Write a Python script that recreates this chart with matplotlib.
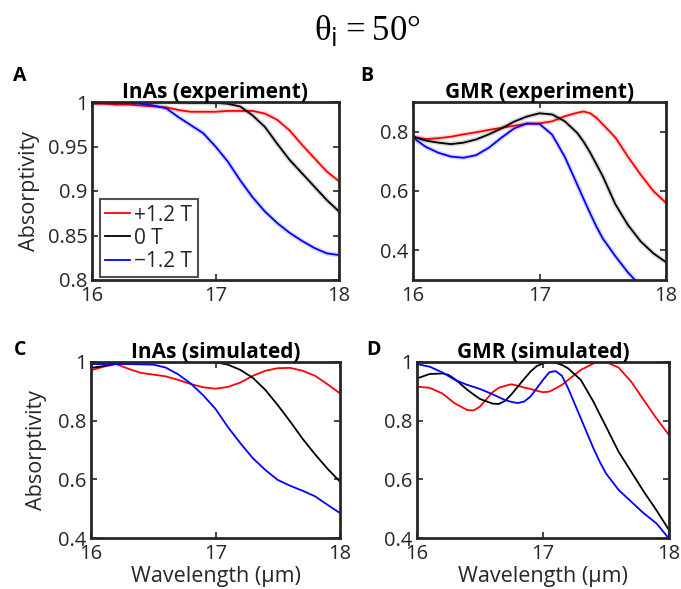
import matplotlib
matplotlib.use('Agg')
import matplotlib.pyplot as plt

# wavelength grids (um)
wl = [16.0, 16.1, 16.2, 16.3, 16.4, 16.5, 16.6, 16.7, 16.8, 16.9,
      17.0, 17.1, 17.2, 17.3, 17.4, 17.5, 17.6, 17.7, 17.8, 17.9, 18.0]
wl_b = [16.0, 16.1, 16.2, 16.3, 16.4, 16.5, 16.6, 16.7, 16.8, 16.9,
        17.0, 17.1, 17.2, 17.3, 17.35, 17.4, 17.45, 17.5, 17.6, 17.7, 17.8, 17.9, 18.0]
wl_d = [16.0, 16.1, 16.2, 16.25, 16.3, 16.4, 16.45, 16.5, 16.6, 16.65, 16.7, 16.75,
        16.8, 16.85, 16.9, 16.95, 17.0, 17.05, 17.1, 17.15, 17.2, 17.3, 17.4, 17.45,
        17.5, 17.6, 17.7, 17.8, 17.9, 18.0]

# A: InAs experiment
a_pos = [0.998, 0.998, 0.997, 0.997, 0.996, 0.995, 0.994, 0.991, 0.989, 0.989,
         0.989, 0.990, 0.990, 0.990, 0.987, 0.980, 0.968, 0.952, 0.937, 0.922, 0.911]
a_zero = [1.000, 1.000, 1.000, 1.000, 1.000, 1.000, 1.000, 1.000, 0.999, 0.999,
          0.999, 0.998, 0.995, 0.985, 0.972, 0.953, 0.935, 0.920, 0.905, 0.890, 0.877]
a_neg = [1.000, 1.000, 0.999, 0.999, 0.998, 0.996, 0.993, 0.983, 0.974, 0.965,
         0.950, 0.933, 0.912, 0.893, 0.877, 0.864, 0.853, 0.844, 0.836, 0.830, 0.828]

# B: GMR experiment
b_pos = [0.783, 0.775, 0.778, 0.783, 0.791, 0.798, 0.806, 0.813, 0.820, 0.826,
         0.828, 0.835, 0.852, 0.864, 0.868, 0.862, 0.847, 0.825, 0.780, 0.715, 0.655, 0.600, 0.560]
b_zero = [0.783, 0.770, 0.763, 0.758, 0.763, 0.774, 0.791, 0.811, 0.834, 0.851,
          0.862, 0.858, 0.835, 0.795, 0.765, 0.730, 0.690, 0.650, 0.555, 0.485, 0.430, 0.390, 0.360]
b_neg = [0.780, 0.749, 0.729, 0.716, 0.712, 0.721, 0.746, 0.780, 0.811, 0.828,
         0.826, 0.790, 0.715, 0.620, 0.572, 0.525, 0.480, 0.440, 0.380, 0.325, 0.280, 0.240, 0.210]

# C: InAs simulated
c_pos = [0.972, 0.984, 0.993, 0.977, 0.963, 0.957, 0.951, 0.939, 0.925, 0.914,
         0.909, 0.915, 0.930, 0.953, 0.970, 0.979, 0.980, 0.970, 0.953, 0.924, 0.893]
c_zero = [0.980, 0.986, 0.994, 0.999, 1.000, 1.000, 1.000, 1.000, 1.000, 1.000,
          0.999, 0.991, 0.973, 0.946, 0.905, 0.853, 0.797, 0.738, 0.685, 0.636, 0.592]
c_neg = [0.993, 0.993, 0.993, 0.993, 0.992, 0.991, 0.981, 0.958, 0.927, 0.887,
         0.840, 0.778, 0.723, 0.672, 0.632, 0.598, 0.578, 0.561, 0.542, 0.513, 0.485]

# D: GMR simulated
d_pos = [0.916, 0.912, 0.893, 0.876, 0.859, 0.836, 0.835, 0.848, 0.897, 0.912, 0.919, 0.924,
         0.919, 0.913, 0.908, 0.902, 0.897, 0.899, 0.910, 0.922, 0.939, 0.973, 0.995, 1.000,
         1.000, 0.981, 0.933, 0.870, 0.808, 0.751]
d_zero = [0.944, 0.959, 0.961, 0.956, 0.942, 0.905, 0.889, 0.874, 0.858, 0.857, 0.868, 0.890,
          0.916, 0.942, 0.967, 0.986, 0.995, 1.000, 0.997, 0.990, 0.978, 0.939, 0.865, 0.822,
          0.780, 0.694, 0.626, 0.558, 0.495, 0.427]
d_neg = [0.993, 0.984, 0.965, 0.952, 0.939, 0.922, 0.915, 0.908, 0.890, 0.880, 0.870, 0.864,
         0.860, 0.865, 0.882, 0.910, 0.939, 0.965, 0.969, 0.953, 0.910, 0.808, 0.706, 0.660,
         0.620, 0.564, 0.524, 0.484, 0.450, 0.398]

labels = ['+1.2 T', '0 T', '\u22121.2 T']
colors = ['#ff0000', '#000000', '#0000ff']

plt.rcParams['font.family'] = ['Open Sans', 'DejaVu Sans']
plt.rcParams['mathtext.fontset'] = 'custom'
plt.rcParams['mathtext.rm'] = 'Liberation Serif'
plt.rcParams['mathtext.sf'] = 'DejaVu Sans'

W, H = 681, 589
fig = plt.figure(figsize=(W / 100, H / 100), dpi=100)
gray = '#262626'

def make_ax(l, t, r, b):
	return fig.add_axes([l / W, 1 - b / H, (r - l) / W, (b - t) / H])

def style(ax, ylim, yticks, yticklabels, title, letter, lx, ly):
	ax.set_xlim(16, 18)
	ax.set_ylim(*ylim)
	ax.set_xticks([16, 17, 18])
	ax.set_xticklabels(['16', '17', '18'])
	ax.set_yticks(yticks)
	ax.set_yticklabels(yticklabels)
	ax.tick_params(direction='in', top=True, right=True, length=4, width=1.2,
				   labelsize=14.5, colors=gray, pad=3)
	ax.tick_params(axis='x', pad=4)
	for s in ax.spines.values():
		s.set_linewidth(2)
		s.set_color(gray)
	ax.set_title(title, fontsize=15, fontweight='bold', pad=3)
	fig.text(lx / W, 1 - ly / H, letter, fontsize=14, fontweight='bold', ha='left', va='center')

axA = make_ax(92, 102, 339, 280)
axB = make_ax(413, 102, 666, 280)
axC = make_ax(91, 362, 340, 538)
axD = make_ax(417, 362, 669, 538)

for ax, x, ys, exp in [(axA, wl, [a_pos, a_zero, a_neg], True),
					   (axB, wl_b, [b_pos, b_zero, b_neg], True),
					   (axC, wl, [c_pos, c_zero, c_neg], False),
					   (axD, wl_d, [d_pos, d_zero, d_neg], False)]:
	for y, c, lab in zip(ys, colors, labels):
		if exp:
			ax.plot(x, y, color=c, linewidth=3.5, alpha=0.15, solid_capstyle='round')
		ax.plot(x, y, color=c, linewidth=1.3, label=lab)

style(axA, (0.8, 1.0), [0.8, 0.85, 0.9, 0.95, 1.0], ['0.8', '0.85', '0.9', '0.95', '1'],
	  'InAs (experiment)', 'A', 13, 76)
style(axB, (0.3, 0.9), [0.4, 0.6, 0.8], ['0.4', '0.6', '0.8'],
	  'GMR (experiment)', 'B', 360, 76)
style(axC, (0.4, 1.0), [0.4, 0.6, 0.8, 1.0], ['0.4', '0.6', '0.8', '1'],
	  'InAs (simulated)', 'C', 14, 350)
style(axD, (0.4, 1.0), [0.4, 0.6, 0.8, 1.0], ['0.4', '0.6', '0.8', '1'],
	  'GMR (simulated)', 'D', 366, 350)

axA.set_ylabel('Absorptivity', fontsize=15.5, color=gray, labelpad=6)
axC.set_ylabel('Absorptivity', fontsize=15.5, color=gray, labelpad=8)
axC.set_xlabel('Wavelength (\u00b5m)', fontsize=15.5, color=gray, labelpad=2)
axD.set_xlabel('Wavelength (\u00b5m)', fontsize=15.5, color=gray, labelpad=2)

leg = axA.legend(loc='lower left', bbox_to_anchor=(8 / 247, 3 / 178), borderaxespad=0,
				 fontsize=15, frameon=True, fancybox=False,
				 handlelength=1.2, handletextpad=0.2, labelspacing=0.1, borderpad=0.25)
leg.get_frame().set_edgecolor(gray)
leg.get_frame().set_linewidth(1.5)
for t in leg.get_texts():
	t.set_color(gray)

fig.text(367 / W, 1 - 30 / H, r'$\mathrm{θ}_\mathsf{i} = \mathrm{50°}$', fontsize=25,
		 ha='center', va='center')

fig.savefig('out.png', dpi=100)
